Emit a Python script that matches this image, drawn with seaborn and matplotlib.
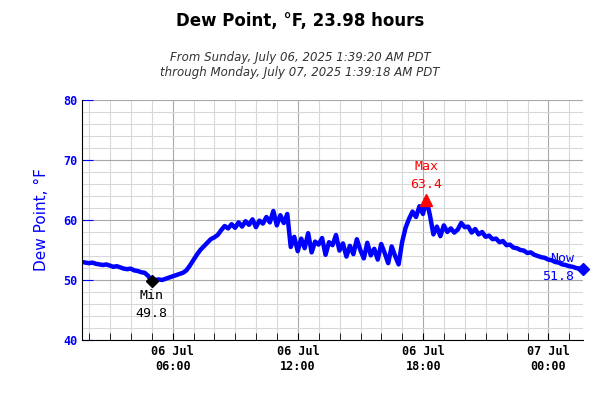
import numpy as np
import pandas as pd
import seaborn as sns
import matplotlib
matplotlib.use("Agg")
import matplotlib.pyplot as plt
import matplotlib.dates as mdates

START = "2025-07-06 01:39:20"
# dew point every 10 minutes
dew = [
    53.0, 52.9, 52.8, 52.9, 52.7, 52.6,
    52.5, 52.6, 52.4, 52.2, 52.3, 52.1,
    51.9, 51.8, 51.9, 51.6, 51.5, 51.3,
    51.2, 50.7, 49.8, 50.0, 50.1, 50.0,
    50.2, 50.4, 50.6, 50.8, 51.0, 51.2,
    51.6, 52.4, 53.3, 54.2, 55.0, 55.6,
    56.2, 56.8, 57.1, 57.5, 58.3, 59.0,
    58.6, 59.3, 58.7, 59.6, 58.9, 59.8,
    59.2, 60.1, 58.8, 59.9, 59.4, 60.5,
    59.6, 61.5, 59.1, 60.8, 59.5, 61.0,
    55.5, 57.2, 54.8, 56.9, 55.3, 57.8,
    54.6, 56.4, 55.9, 57.0, 54.2, 56.3,
    55.8, 57.5, 54.9, 56.1, 53.9, 55.7,
    54.3, 56.8, 55.0, 53.6, 56.2, 54.1,
    55.2, 53.4, 56.0, 54.5, 52.8, 55.6,
    54.0, 52.6, 56.3, 58.7, 60.2, 61.4,
    60.5, 62.3, 61.0, 63.4, 60.8, 57.6,
    58.9, 57.3, 59.1, 58.0, 58.6, 57.9,
    58.4, 59.5, 58.8, 58.9, 57.9, 58.5,
    57.6, 58.0, 57.2, 57.4, 56.8, 56.9,
    56.3, 56.5, 55.8, 55.9, 55.4, 55.3,
    55.0, 54.9, 54.5, 54.6, 54.2, 54.0,
    53.8, 53.7, 53.4, 53.3, 53.0, 52.9,
    52.6, 52.5, 52.3, 52.2, 52.0, 51.9,
    51.8,
]
times = pd.date_range(START, periods=len(dew), freq="10min")
times = times[:-1].append(pd.DatetimeIndex(["2025-07-07 01:39:18"]))
df = pd.DataFrame({"time": times, "dew": dew})

mono = "DejaVu Sans Mono"
fig = plt.figure(figsize=(6, 4), dpi=100)
ax = fig.add_axes([82 / 600, 60 / 400, 501 / 600, 240 / 400])
sns.lineplot(data=df, x="time", y="dew", ax=ax, color="#0000ff", linewidth=3.2)

ax.set_ylim(40, 80)
ax.set_xlim(df["time"].iloc[0], df["time"].iloc[-1])
ax.set_yticks([40, 50, 60, 70, 80])
ax.set_yticks(np.arange(40, 81, 2), minor=True)
ax.xaxis.set_major_locator(mdates.HourLocator(byhour=[0, 6, 12, 18]))
ax.xaxis.set_minor_locator(mdates.HourLocator())
ax.xaxis.set_major_formatter(mdates.DateFormatter("%d %b\n%H:%M"))
ax.grid(which="major", color="#a8a8a8", linewidth=0.8)
ax.grid(which="minor", color="#d8d8d8", linewidth=0.8)
ax.set_axisbelow(True)
for s in ["top", "right"]:
    ax.spines[s].set_visible(False)
ax.tick_params(axis="y", colors="#0000ff", labelsize=8.5, direction="in", length=8)
ax.tick_params(axis="y", which="minor", length=0)
ax.tick_params(axis="x", which="both", direction="in", length=5)
ax.tick_params(axis="x", labelsize=8.5)
for lab in ax.get_yticklabels() + ax.get_xticklabels():
    lab.set_fontfamily(mono)
    lab.set_fontweight("bold")
ax.set_xlabel("")
ax.set_ylabel("Dew Point, °F", color="#0000ff", fontsize=11, labelpad=10)

# min / max / now markers
imin = int(np.argmin(dew))
imax = int(np.argmax(dew))
tmin, tmax, tnow = times[imin], times[imax], times[-1]
ax.plot(tmin, dew[imin], marker="D", color="black", markersize=6)
ax.text(tmin, dew[imin] - 1.3, f"Min\n{dew[imin]:.1f}", ha="center", va="top",
        fontfamily=mono, fontsize=9.5, linespacing=1.5)
ax.plot(tmax, dew[imax], marker="^", color="red", markersize=8)
ax.text(tmax, dew[imax] + 1.5, f"Max\n{dew[imax]:.1f}", ha="center", va="bottom",
        color="red", fontfamily=mono, fontsize=9.5, linespacing=1.5)
ax.plot(tnow, dew[-1], marker="D", color="#0000ff", markersize=6, clip_on=False)
ax.text(tnow - pd.Timedelta(minutes=25), dew[-1] + 0.2, f"Now\n{dew[-1]:.1f}", ha="right",
        va="center", color="#0000ff", fontfamily=mono, fontsize=9.5, linespacing=1.5)

fig.text(0.5, 0.935, "Dew Point, °F, 23.98 hours", ha="center", fontsize=12, fontweight="bold")
fig.text(0.5, 0.81, "From Sunday, July 06, 2025 1:39:20 AM PDT\nthrough Monday, July 07, 2025 1:39:18 AM PDT",
         ha="center", fontsize=8.5, style="italic", color="#333333", linespacing=1.2)

fig.savefig("out.png", dpi=100)
plt.close(fig)
